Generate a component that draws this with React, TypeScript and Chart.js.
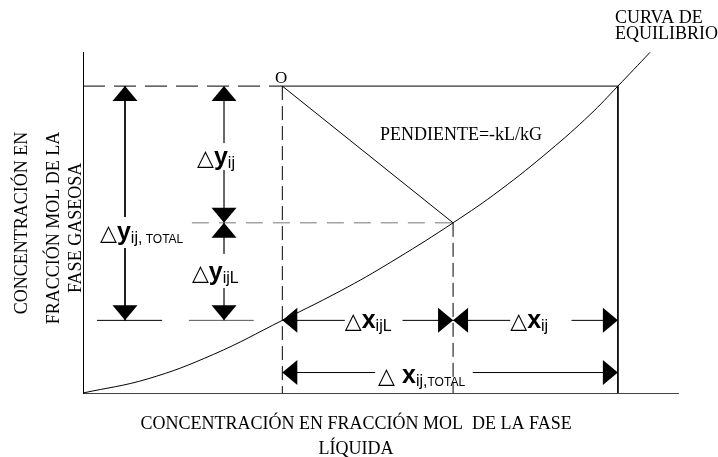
import React, { useEffect, useRef } from 'react';
import { Chart, registerables } from 'chart.js';

Chart.register(...registerables);

// ---- axis ranges (dimensionless concentration units) ----
const xMin = 0;
const xMax = 100;
const yMin = 0;
const yMax = 100;

// ---- equilibrium curve (liquid fraction x, gas fraction y) ----
const curveX = [0, 10.8, 21.9, 33.5, 44.4, 52.8, 62.2, 70.1, 78.5, 85.2, 89.9, 95.3];
const curveY = [0, 4.1, 11.3, 21.3, 31.0, 39.5, 49.9, 59.5, 71.2, 81.6, 90.0, 99.9];

// ---- key points of the construction ----
const xO = 33.5; // bulk liquid composition (point O)
const xI = 62.2; // interface composition
const xR = 89.9; // equilibrium with bulk gas
const yTop = 90.0; // bulk gas composition
const yI = 49.9; // interface gas composition
const yLow = 21.3; // equilibrium with bulk liquid
const yBase = 6.0; // level of the total x arrow
const xArrowTotal = 7.06; // Δy total arrow
const xArrowParts = 23.7; // Δy partial arrows

// ---- segments [x1, y1, x2, y2] ----
const solidSegments = [
  [xO, yTop, xR, yTop],
  [xR, yTop, xR, 0],
  [xO, yTop, xI, yI],
  [xArrowTotal, yTop, xArrowTotal, 51.6],
  [xArrowTotal, 42.5, xArrowTotal, yLow],
  [2.35, yLow, 13.3, yLow],
  [xO, yLow, 44.0, yLow],
  [53.7, yLow, xI, yLow],
  [xI, yLow, 71.8, yLow],
  [82.1, yLow, xR, yLow],
  [xO, yBase, 49.1, yBase],
  [65.5, yBase, xR, yBase],
];
const graySegments = [
  [xArrowParts, yTop, xArrowParts, 73.3],
  [xArrowParts, 65.4, xArrowParts, yI],
  [xArrowParts, yI, xArrowParts, 40.8],
  [xArrowParts, 30.8, xArrowParts, yLow],
  [17.8, yLow, 28.7, yLow],
];
const dashedHorizontal = [[0, yTop, xO, yTop]];
const dashedVertical = [
  [xO, yTop, xO, 0],
  [xI, yI, xI, 0],
];
const dashedGray = [[18.3, yI, xI, yI]];

// ---- arrow heads (tip position + direction) ----
const arrowHeads = [
  { x: xArrowTotal, y: yTop, dir: 'up' },
  { x: xArrowTotal, y: yLow, dir: 'down' },
  { x: xArrowParts, y: yTop, dir: 'up' },
  { x: xArrowParts, y: yI, dir: 'down' },
  { x: xArrowParts, y: yI, dir: 'up' },
  { x: xArrowParts, y: yLow, dir: 'down' },
  { x: xO, y: yLow, dir: 'left' },
  { x: xI, y: yLow, dir: 'right' },
  { x: xI, y: yLow, dir: 'left' },
  { x: xR, y: yLow, dir: 'right' },
  { x: xO, y: yBase, dir: 'left' },
  { x: xR, y: yBase, dir: 'right' },
];

// ---- Δ labels: [text, fontKey, baseline shift] ----
const deltaLabels = [
  { x: 2.86, y: 44.9, parts: [['△', 'tri', 0], ['y', 'main', 0], ['ij,', 'sub', 3], [' TOTAL', 'small', 3]] },
  { x: 19.16, y: 66.9, parts: [['△', 'tri', 0], ['y', 'main', 0], ['ij', 'sub', 3]] },
  { x: 18.3, y: 33.1, parts: [['△', 'tri', 0], ['y', 'main', 0], ['ijL', 'sub', 3]] },
  { x: 44.0, y: 19.1, parts: [['△', 'tri', 0], ['x', 'main', 0], ['ijL', 'sub', 3]] },
  { x: 71.8, y: 19.1, parts: [['△', 'tri', 0], ['x', 'main', 0], ['ij', 'sub', 3]] },
  { x: 49.6, y: 2.9, parts: [['△ ', 'tri', 0], ['x', 'main', 0], ['ij,', 'sub', 3], ['TOTAL', 'small', 3]] },
];

const serifLabels = [
  { text: 'O', x: 33.3, y: 90.9, align: 'center', size: 17 },
  { text: 'PENDIENTE=-kL/kG', x: 49.9, y: 74.2, align: 'left', size: 18 },
  { text: 'CURVA DE', x: 89.4, y: 108.5, align: 'left', size: 18 },
  { text: 'EQUILIBRIO', x: 89.4, y: 103.7, align: 'left', size: 18 },
  { text: 'CONCENTRACIÓN EN FRACCIÓN MOL  DE LA FASE', x: 45.9, y: -10.6, align: 'center', size: 18 },
  { text: 'LÍQUIDA', x: 45.9, y: -17.9, align: 'center', size: 18 },
];

const yTitleLines = [
  { text: 'CONCENTRACIÓN EN', x: -9.41, y: 49.85 },
  { text: 'FRACCIÓN MOL DE LA', x: -4.03, y: 48.4 },
  { text: 'FASE GASEOSA', x: -0.34, y: 48.4 },
];

const FONTS: Record<string, string> = {
  tri: "22px 'DejaVu Sans'",
  main: "bold 25px 'Liberation Sans', Arial, sans-serif",
  sub: "16px 'Liberation Sans', Arial, sans-serif",
  small: "12px 'Liberation Sans', Arial, sans-serif",
};

function segDataset(seg: number[], color: string, dash: number[] = []) {
  return {
    data: [
      { x: seg[0], y: seg[1] },
      { x: seg[2], y: seg[3] },
    ],
    showLine: true,
    borderColor: color,
    borderWidth: 1,
    borderDash: dash,
    pointRadius: 0,
    fill: false,
  };
}

const annotationPlugin = {
  id: 'diagramAnnotations',
  afterDatasetsDraw(chart: any) {
    const { ctx } = chart;
    const xs = chart.scales.x;
    const ys = chart.scales.y;
    const L = 15;
    const W = 12.5;
    ctx.save();
    ctx.fillStyle = '#000';
    for (const a of arrowHeads) {
      const px = xs.getPixelForValue(a.x);
      const py = ys.getPixelForValue(a.y);
      ctx.beginPath();
      ctx.moveTo(px, py);
      if (a.dir === 'up') {
        ctx.lineTo(px - W, py + L);
        ctx.lineTo(px + W, py + L);
      } else if (a.dir === 'down') {
        ctx.lineTo(px - W, py - L);
        ctx.lineTo(px + W, py - L);
      } else if (a.dir === 'left') {
        ctx.lineTo(px + L, py - W);
        ctx.lineTo(px + L, py + W);
      } else {
        ctx.lineTo(px - L, py - W);
        ctx.lineTo(px - L, py + W);
      }
      ctx.closePath();
      ctx.fill();
    }

    // Δ labels
    ctx.textBaseline = 'alphabetic';
    ctx.textAlign = 'left';
    for (const lab of deltaLabels) {
      let px = xs.getPixelForValue(lab.x);
      const py = ys.getPixelForValue(lab.y);
      for (const [t, f, dy] of lab.parts as any[]) {
        ctx.font = FONTS[f];
        ctx.fillText(t, px, py + dy);
        px += ctx.measureText(t).width;
      }
    }

    // serif labels
    for (const lab of serifLabels) {
      ctx.font = `${lab.size}px 'Liberation Serif', 'Times New Roman', serif`;
      ctx.textAlign = lab.align as CanvasTextAlign;
      ctx.fillText(lab.text, xs.getPixelForValue(lab.x), ys.getPixelForValue(lab.y));
    }

    // rotated y title
    ctx.font = "18px 'Liberation Serif', 'Times New Roman', serif";
    ctx.textAlign = 'center';
    for (const lab of yTitleLines) {
      ctx.save();
      ctx.translate(xs.getPixelForValue(lab.x), ys.getPixelForValue(lab.y));
      ctx.rotate(-Math.PI / 2);
      ctx.fillText(lab.text, 0, 0);
      ctx.restore();
    }
    ctx.restore();
  },
};

export default function App() {
  const canvasRef = useRef<HTMLCanvasElement | null>(null);

  useEffect(() => {
    document.body.style.margin = '0';
    const canvas = canvasRef.current;
    if (!canvas) return;

    const datasets: any[] = [
      {
        data: curveX.map((x, i) => ({ x, y: curveY[i] })),
        showLine: true,
        borderColor: '#000',
        borderWidth: 1,
        pointRadius: 0,
        tension: 0.4,
        fill: false,
      },
      ...solidSegments.map((s) => segDataset(s, '#000')),
      ...graySegments.map((s) => segDataset(s, '#555')),
      ...dashedHorizontal.map((s) => segDataset(s, '#000', [22, 9])),
      ...dashedVertical.map((s) => segDataset(s, '#000', [14, 6])),
      ...dashedGray.map((s) => segDataset(s, '#777', [17, 10])),
    ];

    const chart = new Chart(canvas, {
      type: 'scatter',
      data: { datasets },
      options: {
        responsive: false,
        animation: false,
        devicePixelRatio: 1,
        events: [],
        layout: { padding: { left: 83, top: 52, right: 40, bottom: 64 } },
        plugins: {
          legend: { display: false },
          tooltip: { enabled: false },
          title: { display: false },
        },
        scales: {
          x: {
            type: 'linear',
            min: xMin,
            max: xMax,
            ticks: { display: false },
            grid: { display: false, drawTicks: false },
            border: { display: true, color: '#444', width: 1 },
          },
          y: {
            type: 'linear',
            min: yMin,
            max: yMax,
            ticks: { display: false },
            grid: { display: false, drawTicks: false },
            border: { display: true, color: '#000', width: 1 },
          },
        },
      },
      plugins: [annotationPlugin],
    } as any);

    return () => chart.destroy();
  }, []);

  return (
    <canvas
      ref={canvasRef}
      width={718}
      height={457}
      style={{ display: 'block', width: '718px', height: '457px', background: '#fff' }}
    />
  );
}
